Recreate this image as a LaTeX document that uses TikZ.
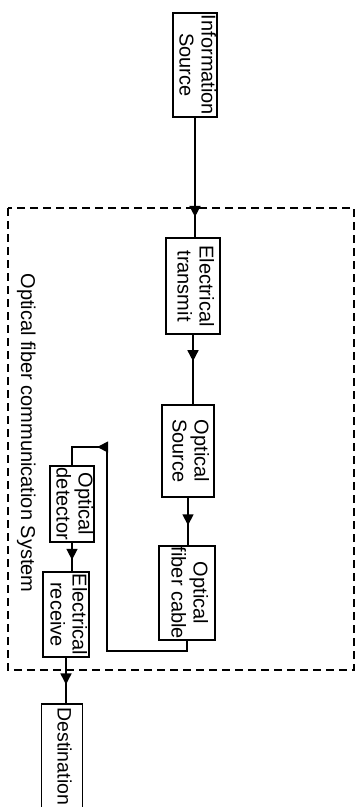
\documentclass[tikz,border=0pt]{standalone}
\usepackage{fontspec}
\setmainfont{Liberation Sans}
\usetikzlibrary{arrows.meta,decorations.markings}
\newcommand\rtext[1]{\rotatebox{-90}{\begin{tabular}{@{}c@{}}#1\end{tabular}}}
\tikzset{
  blk/.style={draw, line width=1.6pt, inner sep=0pt, font=\fontsize{20}{22}\selectfont},
  conn/.style={line width=1.6pt},
  midarr/.style={postaction={decorate}, decoration={markings, mark=at position #1 with {\arrow{Triangle[width=11pt,length=11pt]}}}},
  frame/.style={line width=1.6pt, dash pattern=on 8pt off 5pt},
}
\begin{document}
\begin{tikzpicture}[x=1pt,y=-1pt]
\useasboundingbox (0,0) rectangle (359,807);
\fill[white] (0,0) rectangle (359,807);
\draw[frame] (8,208) rectangle (354,670);
\node[blk, minimum width=36pt, minimum height=104pt] (info) at (195,65) {\rtext{Information\\Source}};
\node[blk, minimum width=54pt, minimum height=96pt] (etx) at (193,286) {\rtext{Electrical\\transmit}};
\node[blk, minimum width=52pt, minimum height=92pt] (osrc) at (188,451) {\rtext{Optical\\Source}};
\node[blk, minimum width=56pt, minimum height=94pt] (fib) at (187,593) {\rtext{Optical\\fiber cable}};
\node[blk, minimum width=41pt, minimum height=76pt] (det) at (72,504) {\rtext{Optical\\detector}};
\node[blk, minimum width=46pt, minimum height=85pt] (erx) at (66,614.5) {\rtext{Electrical\\receive}};
\node[blk, minimum width=41pt, minimum height=105pt, anchor=north, font=\fontsize{19.5}{22}\selectfont] (dest) at (62,703) {\rtext{Destination}};
\node[font=\fontsize{20}{22}\selectfont, rotate=-90, anchor=base] (lbl) at (21,433) {Optical fiber communication System};
\coordinate (c1) at (107,651);
\coordinate (c2) at (107,447);
\draw[conn, midarr=0.83] (info.south) -- (info.south |- etx.north);
\draw[conn, midarr=0.38] (etx.south) -- (etx.south |- osrc.north);
\draw[conn, midarr=0.58] (osrc.south) -- (osrc.south |- fib.north);
\draw[conn, midarr=0.875] (fib.south) |- (c1) -- (c2) -| (det.north);
\draw[conn, midarr=0.6] (det.south) -- (det.south |- erx.north);
\draw[conn, midarr=0.59] (erx.south) -- (erx.south |- dest.north);
\end{tikzpicture}
\end{document}
